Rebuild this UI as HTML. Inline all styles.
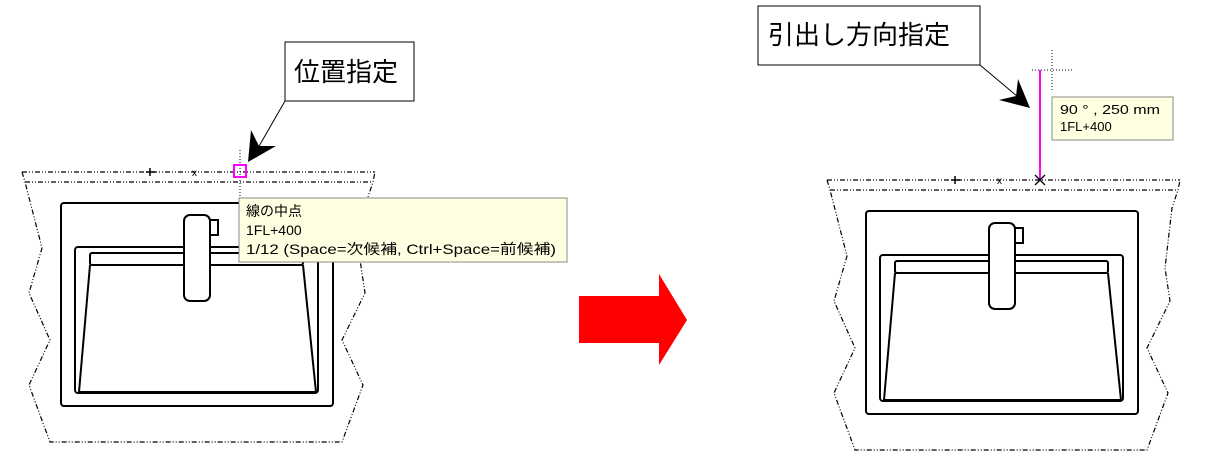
<!DOCTYPE html>
<html><head><meta charset="utf-8"><style>
html,body{margin:0;padding:0;background:#fff;width:1215px;height:459px;overflow:hidden}
svg{display:block}
text{font-family:"Liberation Sans","Noto Sans CJK JP",sans-serif}
</style></head><body>
<svg width="1215" height="459" viewBox="0 0 1215 459" xmlns="http://www.w3.org/2000/svg">
<defs>
<g id="sink">
  <g fill="none" stroke="#000" stroke-width="1.2" stroke-dasharray="5,2,1,2,1,2">
    <line x1="22" y1="172" x2="375" y2="172"/>
    <polyline points="22,172 25,182 42,248 29,293 50,340 29,385 50,442 342,442 363,385 342,340 365,293 360,260 367,200 373,182 375,172"/>
    <line x1="25" y1="182" x2="373" y2="182"/>
  </g>
  <g fill="none" stroke="#000" stroke-width="2">
    <rect x="61" y="203" width="272" height="203" rx="3"/>
    <rect x="75" y="247" width="243" height="146" rx="3"/>
    <rect x="90" y="253" width="213" height="12" rx="2"/>
    <polyline points="90,265 79,392 316,392 303,265"/>
    <rect x="184" y="215" width="26" height="86" rx="6" fill="#fff"/>
    <rect x="210" y="220" width="8" height="15"/>
  </g>
  <line x1="150" y1="168" x2="150" y2="176" stroke="#000" stroke-width="1.5"/>
  <line x1="146" y1="172" x2="155" y2="172" stroke="#000" stroke-width="1.5"/>
  <text x="192" y="176" font-size="10">x</text>
</g>
</defs>

<use href="#sink"/>
<line x1="240" y1="150" x2="240" y2="200" stroke="#000" stroke-dasharray="1,2"/>
<rect x="234" y="165" width="12" height="12" fill="none" stroke="#f0f" stroke-width="2"/>

<rect x="239" y="198" width="328" height="64" fill="#ffffe1" stroke="#888" stroke-width="1"/>
<text x="246" y="216" font-size="14">線の中点</text>
<text x="246" y="235" font-size="14">1FL+400</text>
<text x="246" y="254" font-size="14" textLength="310" lengthAdjust="spacingAndGlyphs">1/12 (Space=次候補, Ctrl+Space=前候補)</text>

<rect x="285" y="42" width="129" height="59" fill="#fff" stroke="#000" stroke-width="1"/>
<text x="294" y="81" font-size="26">位置指定</text>
<line x1="285" y1="101" x2="258" y2="148" stroke="#000"/>
<polygon points="248,162 251,130 259,146 276,146" fill="#000"/>

<polygon points="579,296 659,296 659,274 687,320 659,365 659,343 579,343" fill="#f00"/>

<use href="#sink" transform="translate(805,8)"/>
<line x1="1040" y1="70" x2="1040" y2="180" stroke="#f0f" stroke-width="2"/>
<line x1="1032" y1="70" x2="1073" y2="70" stroke="#000" stroke-dasharray="1,2"/>
<line x1="1052" y1="50" x2="1052" y2="91" stroke="#000" stroke-dasharray="1,2"/>
<line x1="1035" y1="175" x2="1045" y2="185" stroke="#000" stroke-width="1.3"/>
<line x1="1045" y1="175" x2="1035" y2="185" stroke="#000" stroke-width="1.3"/>

<rect x="1052" y="97" width="121" height="43" fill="#ffffe1" stroke="#888"/>
<text x="1060" y="114" font-size="13" textLength="100" lengthAdjust="spacingAndGlyphs">90 ° , 250 mm</text>
<text x="1060" y="131" font-size="13">1FL+400</text>

<rect x="758" y="6" width="222" height="59" fill="#fff" stroke="#000"/>
<text x="768" y="44" font-size="26">引出し方向指定</text>
<line x1="980" y1="65" x2="1018" y2="97" stroke="#000"/>
<polygon points="1030,108 1018,79 1016,96 999,100" fill="#000"/>
</svg>
</body></html>
